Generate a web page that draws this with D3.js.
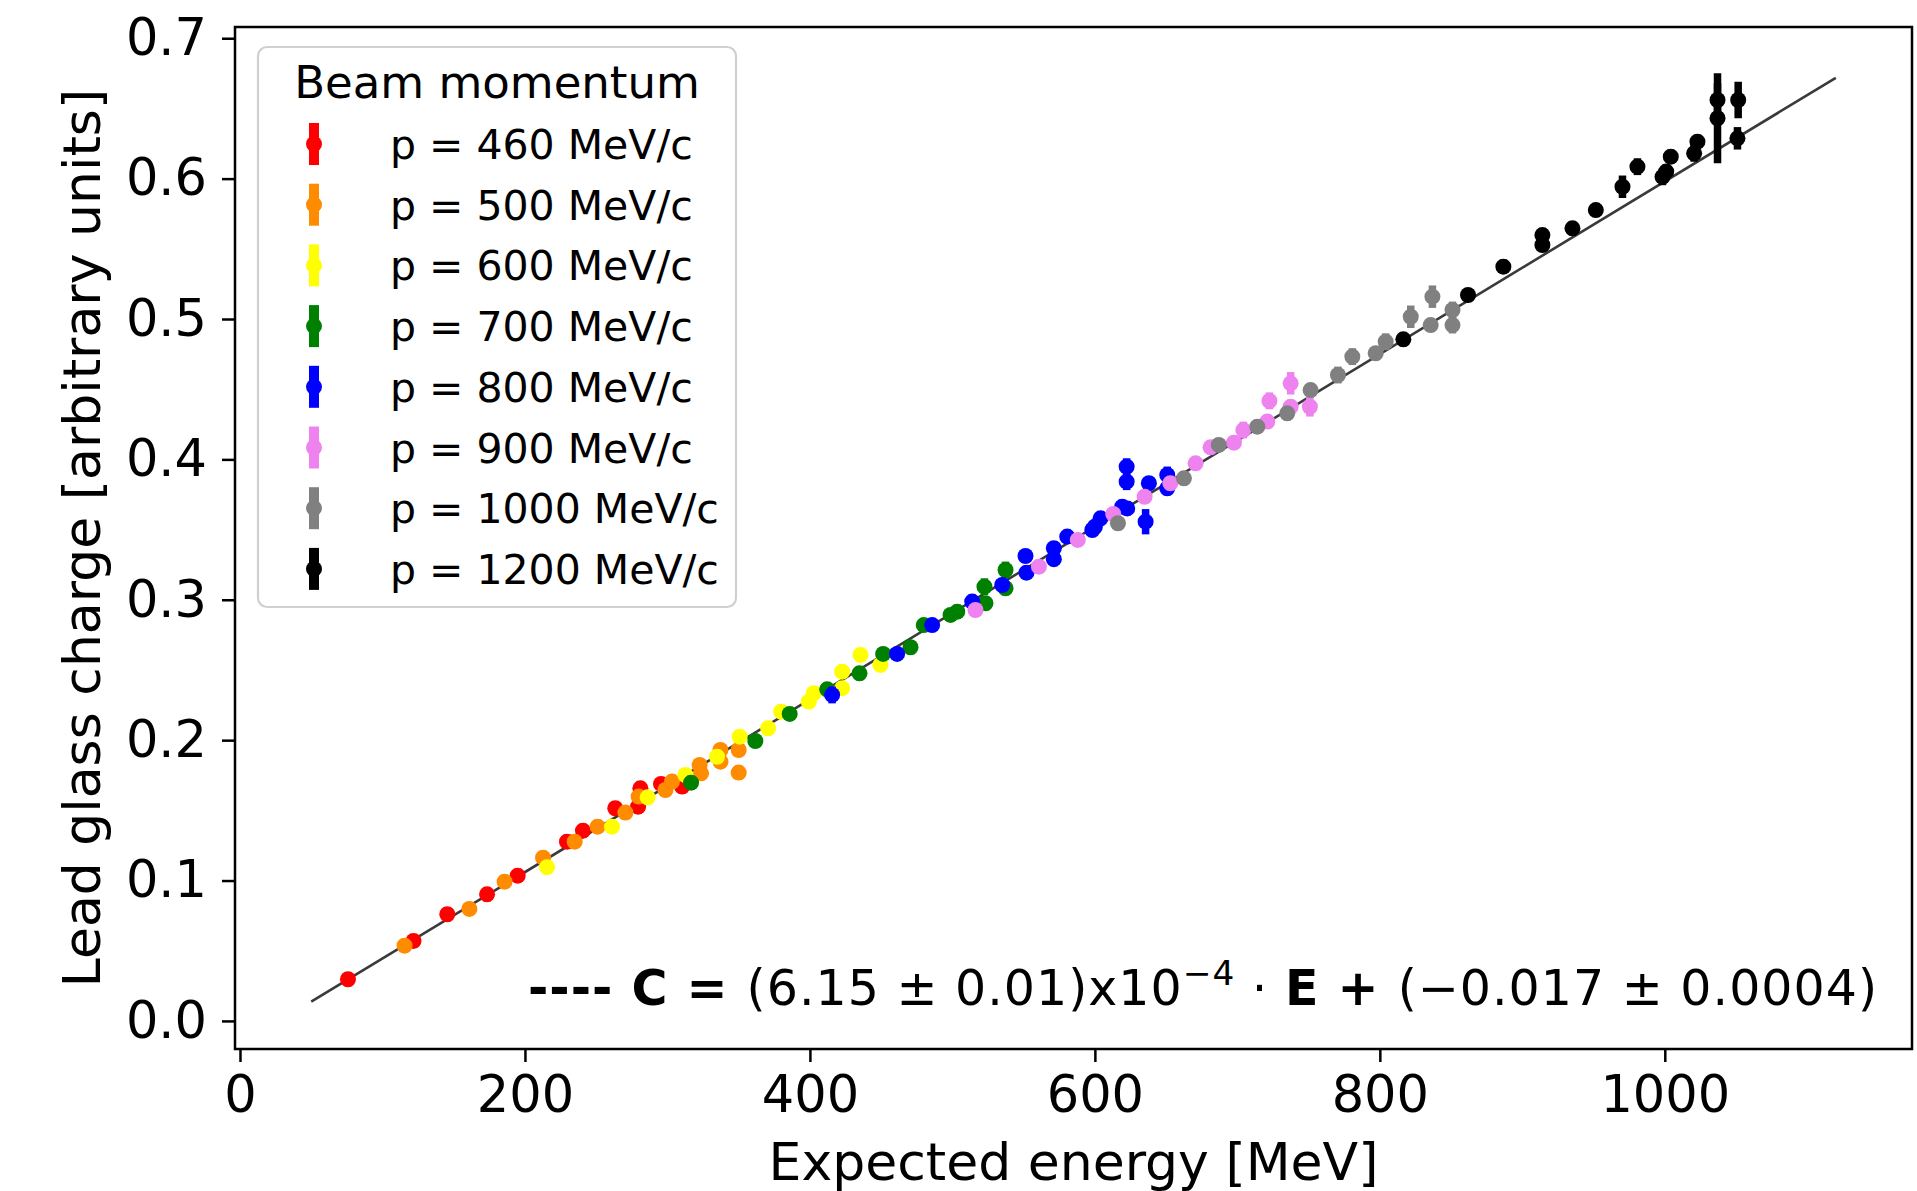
<!DOCTYPE html>
<html>
<head>
<meta charset="utf-8">
<script src="https://cdn.jsdelivr.net/npm/d3@7/dist/d3.min.js"></script>
<style>
  html, body { margin: 0; padding: 0; background: #ffffff; }
  svg { display: block; }
  text { font-family: "DejaVu Sans", "Liberation Sans", sans-serif; fill: #000; }
</style>
</head>
<body>
<svg id="chart" width="1917" height="1191"></svg>
<script>
// ---------------- DATA ----------------
const seriesLabels = ["p = 460 MeV/c", "p = 500 MeV/c", "p = 600 MeV/c", "p = 700 MeV/c",
                      "p = 800 MeV/c", "p = 900 MeV/c", "p = 1000 MeV/c", "p = 1200 MeV/c"];
const seriesColors = ["#ff0000", "#ff8c00", "#ffff00", "#008000", "#0000ff", "#ee82ee", "#808080", "#000000"];

const e460 = [75.8, 121.8, 145.5, 173.4, 194.9, 229.5, 240.7, 263.4, 279.4, 281, 295.5, 310.3];
const c460 = [0.0297, 0.057, 0.076, 0.0902, 0.1035, 0.1277, 0.1355, 0.1515, 0.1526, 0.1657, 0.1688, 0.1669];
const err460 = [0.005, 0.005, 0.005, 0.005, 0.005, 0.005, 0.005, 0.005, 0.005, 0.005, 0.005, 0.005];

const e500 = [115.5, 161, 185.7, 212.7, 234.9, 251, 270.5, 279.8, 298.6, 303.2, 322.6, 323.6, 337.2, 337.2, 350, 350];
const c500 = [0.0536, 0.0798, 0.0992, 0.1163, 0.1277, 0.1384, 0.1484, 0.1598, 0.1645, 0.1705, 0.1823, 0.1764, 0.193, 0.1847, 0.193, 0.1769];
const err500 = [0.005, 0.005, 0.005, 0.005, 0.005, 0.005, 0.005, 0.005, 0.005, 0.005, 0.005, 0.005, 0.005, 0.005, 0.005, 0.005];

const e600 = [215.5, 261.1, 286.1, 312.6, 334.8, 350.7, 370.7, 379.8, 399.2, 402.7, 422.6, 422.6, 435.5, 449.5];
const c600 = [0.1095, 0.1384, 0.1593, 0.1752, 0.1882, 0.2025, 0.2085, 0.2203, 0.2274, 0.2334, 0.2488, 0.237, 0.2607, 0.2536];
const err600 = [0.005, 0.005, 0.005, 0.005, 0.005, 0.005, 0.005, 0.005, 0.005, 0.005, 0.005, 0.005, 0.005, 0.005];

const e700 = [316.6, 361.7, 385.8, 412.1, 434.8, 451.4, 470.6, 479.9, 498.7, 503.4, 522.5, 523.2, 537.3, 537.3];
const c700 = [0.1697, 0.1994, 0.2187, 0.2362, 0.2476, 0.2614, 0.2662, 0.282, 0.2892, 0.2915, 0.3093, 0.2975, 0.3212, 0.3082];
const err700 = [0.005, 0.005, 0.005, 0.005, 0.005, 0.005, 0.005, 0.005, 0.005, 0.005, 0.006, 0.005, 0.006, 0.005];

const e800 = [415.6, 461.2, 485.8, 513.9, 535, 551.3, 552, 571.2, 571.2, 580.6, 598.2, 600, 604, 619.2, 622.7, 622.3, 622.3, 635.6, 637.9, 650.8, 650.8];
const c800 = [0.2322, 0.2614, 0.282, 0.2987, 0.3105, 0.3312, 0.3193, 0.3367, 0.3289, 0.345, 0.3497, 0.352, 0.358, 0.3663, 0.3651, 0.3948, 0.3841, 0.3556, 0.383, 0.3889, 0.3794];
const err800 = [0.006, 0.005, 0.005, 0.005, 0.005, 0.005, 0.005, 0.005, 0.005, 0.005, 0.005, 0.005, 0.005, 0.005, 0.005, 0.006, 0.006, 0.009, 0.005, 0.006, 0.005];

const e900 = [516.2, 560.7, 588, 612.9, 634.9, 653, 670.7, 681.2, 697.6, 704.2, 721, 722.5, 737.4, 737.4, 750.9];
const c900 = [0.2927, 0.3236, 0.3426, 0.3611, 0.3734, 0.383, 0.3972, 0.4086, 0.4119, 0.4209, 0.4269, 0.4417, 0.4375, 0.4542, 0.4375];
const err900 = [0.005, 0.005, 0.005, 0.005, 0.005, 0.005, 0.005, 0.005, 0.005, 0.006, 0.005, 0.006, 0.005, 0.008, 0.007];

const e1000 = [616.2, 662.5, 687, 714, 735, 751.4, 770.6, 780.7, 797.1, 804.1, 821.7, 835.7, 836.9, 851, 851];
const c1000 = [0.3545, 0.3865, 0.4103, 0.4233, 0.4328, 0.4494, 0.4601, 0.4732, 0.4756, 0.4838, 0.5016, 0.4957, 0.5159, 0.5064, 0.4957];
const err1000 = [0.005, 0.005, 0.005, 0.005, 0.005, 0.005, 0.006, 0.006, 0.005, 0.006, 0.008, 0.005, 0.008, 0.006, 0.006];

const e1200 = [816.5, 861.9, 886.7, 914.1, 914.1, 935.2, 951.6, 970.3, 980.8, 998.4, 1001, 1004.2, 1020.6, 1022.9, 1037, 1037, 1051.5, 1051];
const c1200 = [0.4855, 0.5171, 0.5373, 0.5598, 0.5527, 0.5646, 0.5776, 0.5942, 0.6085, 0.6013, 0.605, 0.6156, 0.618, 0.6263, 0.656, 0.643, 0.656, 0.6287];
const err1200 = [0.005, 0.005, 0.005, 0.005, 0.005, 0.005, 0.005, 0.008, 0.006, 0.006, 0.005, 0.005, 0.006, 0.005, 0.012, 0.032, 0.013, 0.008];

const fitSlope = 6.15e-4;
const fitIntercept = -0.017;
const fitRange = [50, 1120];

const xTicks = [0, 200, 400, 600, 800, 1000];
const yTicks = [0.0, 0.1, 0.2, 0.3, 0.4, 0.5, 0.6, 0.7];
const xDomain = [-3.5, 1173.5];
const yDomain = [-0.02, 0.708];

const xLabel = "Expected energy [MeV]";
const yLabel = "Lead glass charge [arbitrary units]";
const legendTitle = "Beam momentum";

// ---------------- BUILD ----------------
const allE = [e460, e500, e600, e700, e800, e900, e1000, e1200];
const allC = [c460, c500, c600, c700, c800, c900, c1000, c1200];
const allErr = [err460, err500, err600, err700, err800, err900, err1000, err1200];
const series = seriesLabels.map((label, i) => ({
  label, color: seriesColors[i],
  points: allE[i].map((e, j) => ({ e, c: allC[i][j], err: allErr[i][j] }))
}));

const svg = d3.select("#chart");
const L = 235, R = 1912, T = 27, B = 1049;
const x = d3.scaleLinear().domain(xDomain).range([L, R]);
const y = d3.scaleLinear().domain(yDomain).range([B, T]);

svg.append("rect").attr("width", 1917).attr("height", 1191).attr("fill", "#fff");

// fit line (under points)
svg.append("line")
  .attr("x1", x(fitRange[0])).attr("y1", y(fitSlope * fitRange[0] + fitIntercept))
  .attr("x2", x(fitRange[1])).attr("y2", y(fitSlope * fitRange[1] + fitIntercept))
  .attr("stroke", "#3a3a3a").attr("stroke-width", 2.6);

// points with error bars
const pts = svg.append("g");
series.forEach(s => {
  const g = pts.append("g");
  g.selectAll("line.err").data(s.points).join("line")
    .attr("class", "err")
    .attr("x1", d => x(d.e)).attr("x2", d => x(d.e))
    .attr("y1", d => y(d.c - d.err)).attr("y2", d => y(d.c + d.err))
    .attr("stroke", s.color).attr("stroke-width", 7.5);
  g.selectAll("circle").data(s.points).join("circle")
    .attr("cx", d => x(d.e)).attr("cy", d => y(d.c)).attr("r", 8)
    .attr("fill", s.color);
});

// axes
const fontTick = 51;
const xAxis = svg.append("g").attr("transform", `translate(0,${B})`)
  .call(d3.axisBottom(x).tickValues(xTicks).tickSize(13).tickPadding(14).tickFormat(d3.format("d")));
const yAxis = svg.append("g").attr("transform", `translate(${L},0)`)
  .call(d3.axisLeft(y).tickValues(yTicks).tickSize(13).tickPadding(15).tickFormat(d3.format(".1f")));
[xAxis, yAxis].forEach(a => {
  a.select(".domain").remove();
  a.selectAll(".tick line").attr("stroke", "#000").attr("stroke-width", 2.5);
  a.selectAll(".tick text").attr("font-size", fontTick).attr("font-family", "DejaVu Sans").attr("fill", "#000");
});

// spines
svg.append("rect").attr("x", L).attr("y", T).attr("width", R - L).attr("height", B - T)
  .attr("fill", "none").attr("stroke", "#000").attr("stroke-width", 2.5);

// axis labels
svg.append("text").attr("x", (L + R) / 2).attr("y", 1180).attr("text-anchor", "middle")
  .attr("font-size", 52).text(xLabel);
svg.append("text").attr("transform", `translate(100,${(T + B) / 2}) rotate(-90)`)
  .attr("text-anchor", "middle").attr("font-size", 52).text(yLabel);

// legend
const lg = svg.append("g");
lg.append("rect").attr("x", 258).attr("y", 47).attr("width", 478).attr("height", 560)
  .attr("rx", 9).attr("fill", "#fff").attr("fill-opacity", 0.8)
  .attr("stroke", "#d0d0d0").attr("stroke-width", 2.2);
lg.append("text").attr("x", 497).attr("y", 98).attr("text-anchor", "middle")
  .attr("font-size", 45).text(legendTitle);
series.forEach((s, i) => {
  const cy = 144 + i * 60.7;
  lg.append("line").attr("x1", 314).attr("x2", 314).attr("y1", cy - 21).attr("y2", cy + 21)
    .attr("stroke", s.color).attr("stroke-width", 10);
  lg.append("circle").attr("cx", 314).attr("cy", cy).attr("r", 8).attr("fill", s.color);
  lg.append("text").attr("x", 390).attr("y", cy + 15).attr("font-size", 41).text(s.label);
});

// fit formula annotation (glyph size like the reference, spacing stretched to its width)
const formulaX0 = 528, formulaX1 = 1877;
const fsF = 49;
const ft = svg.append("text").attr("x", formulaX0).attr("y", 1005).attr("font-size", fsF);
ft.append("tspan").attr("font-weight", "bold").text("----");
ft.append("tspan").attr("font-weight", "bold").text(" C = ");
ft.append("tspan").text("(6.15 \u00b1 0.01)x10");
ft.append("tspan").attr("font-size", fsF * 0.7).attr("dy", -fsF * 0.4).text("\u22124");
ft.append("tspan").attr("dy", fsF * 0.4).text(" \u00b7 ");
ft.append("tspan").attr("font-weight", "bold").text("E + ");
ft.append("tspan").text("(\u22120.017 \u00b1 0.0004)");
const wNat = ft.node().getComputedTextLength();
if (wNat < formulaX1 - formulaX0) {
  ft.attr("textLength", formulaX1 - formulaX0).attr("lengthAdjust", "spacing");
}
</script>
</body>
</html>
